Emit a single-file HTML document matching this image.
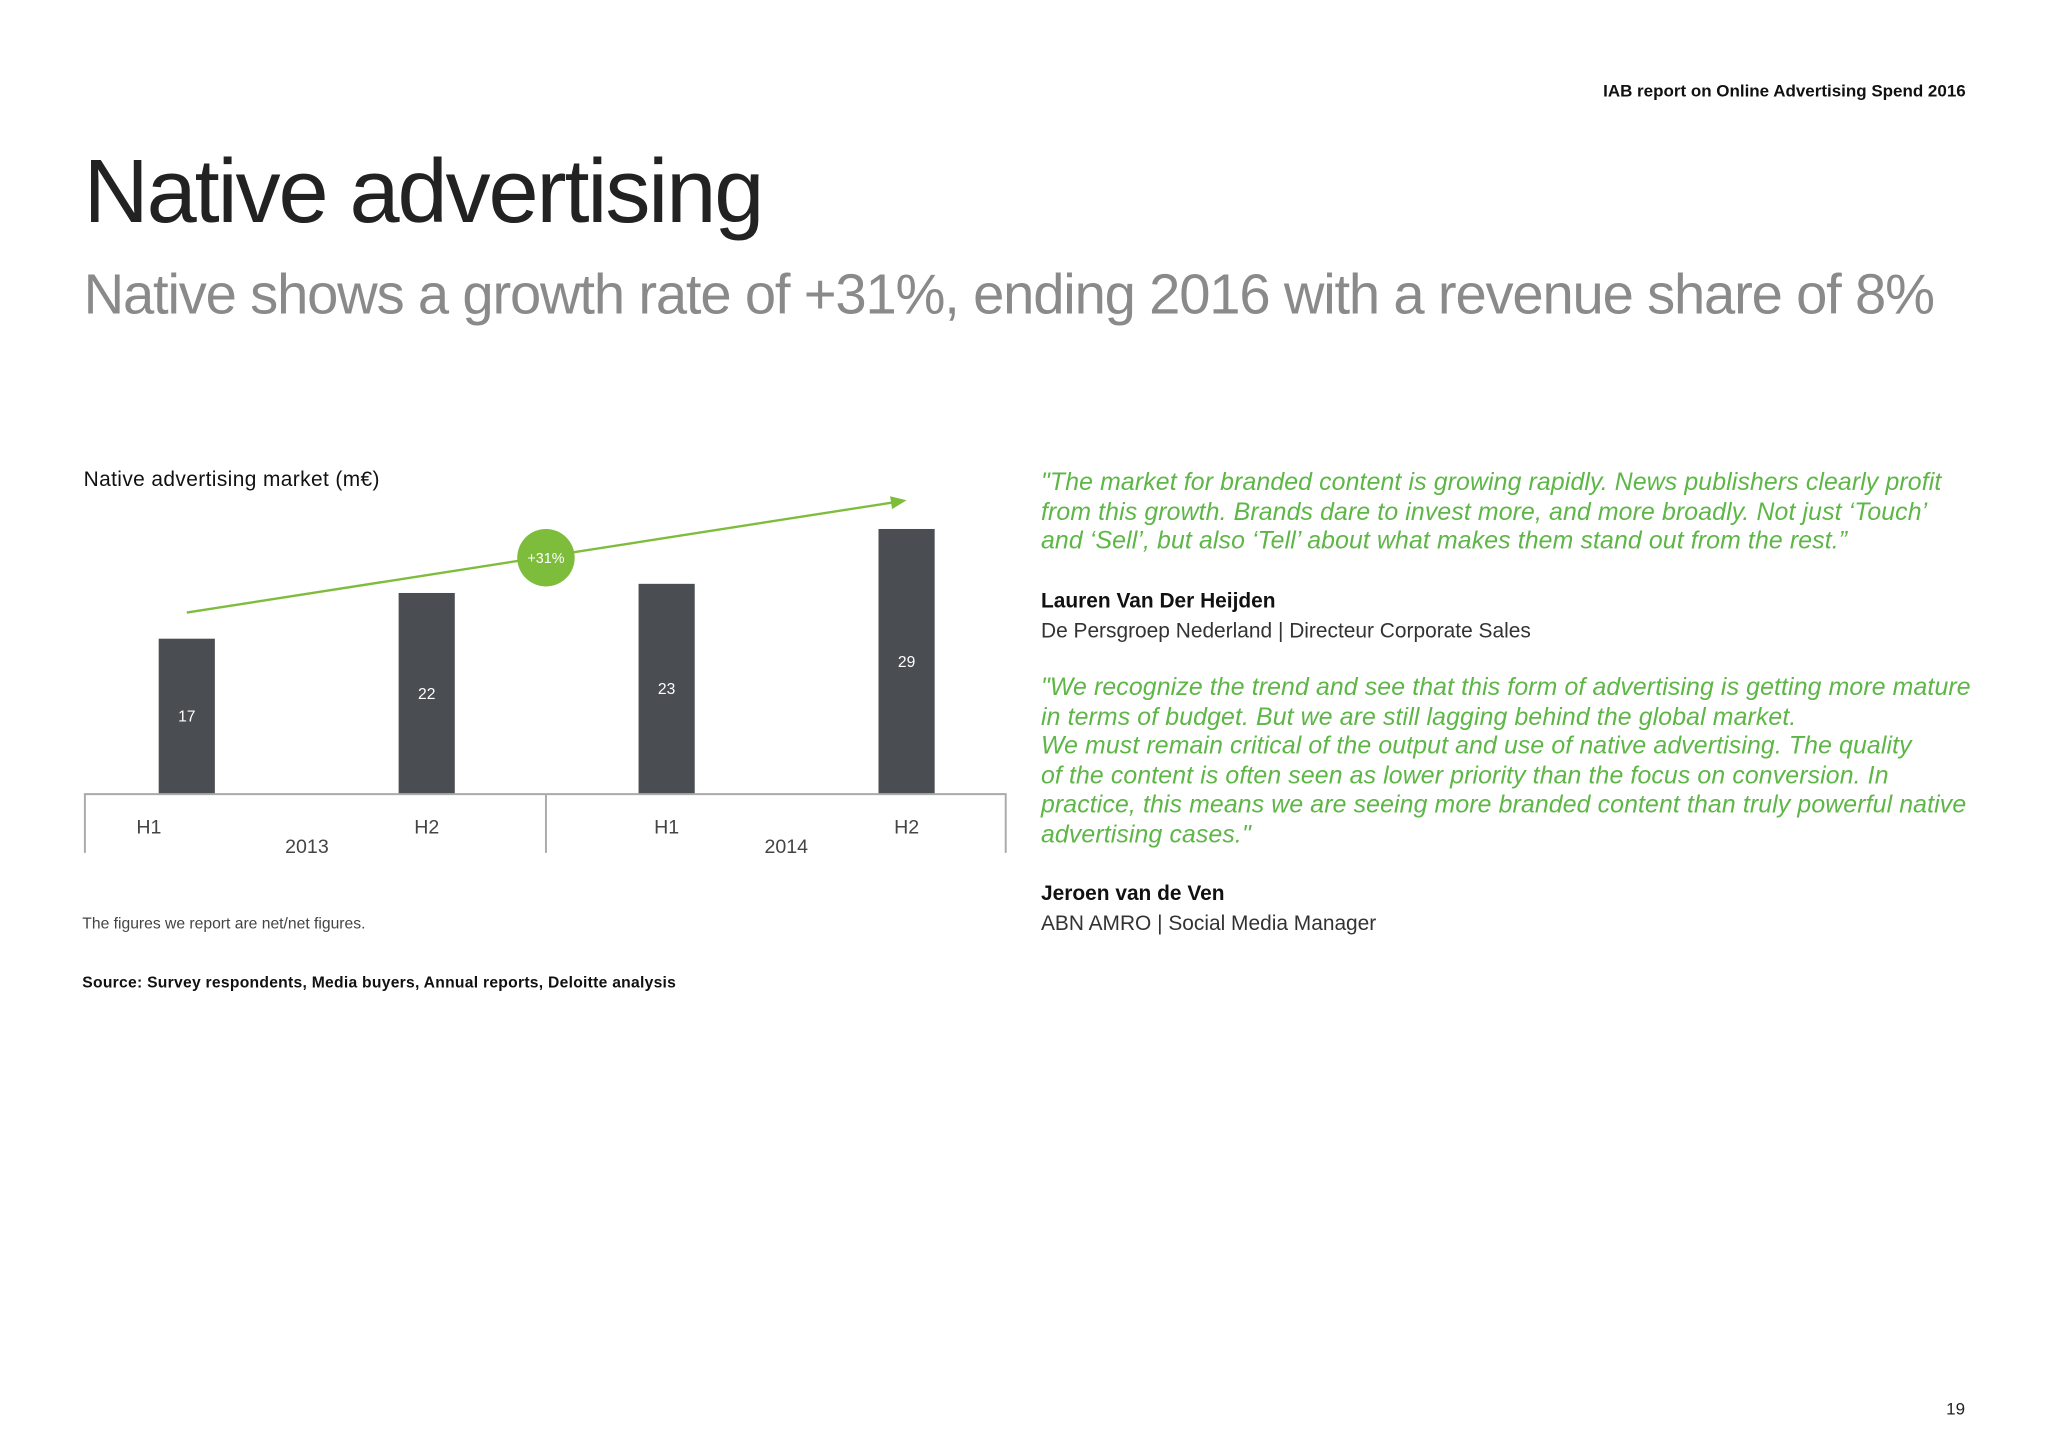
<!DOCTYPE html>
<html><head><meta charset="utf-8"><style>
html,body{margin:0;padding:0;background:#fff;}
#wrap{width:1568px;height:1109px;transform:scale(1.306122);transform-origin:0 0;position:relative;font-family:"Liberation Sans",sans-serif;}
.a{position:absolute;white-space:nowrap;}
.q{position:absolute;left:797px;color:#5db646;font-style:italic;font-size:19px;line-height:22.5px;white-space:nowrap;letter-spacing:0.1px;}
</style></head><body>
<div id="wrap">
<div class="a" style="right:63px;top:62px;font-size:13px;font-weight:bold;color:#111;">IAB report on Online Advertising Spend 2016</div>
<div class="a" style="left:64px;top:107px;font-size:69px;color:#222;letter-spacing:-1.6px;">Native advertising</div>
<div class="a" style="left:64px;top:202px;font-size:43px;color:#8a8a8a;letter-spacing:-0.9px;">Native shows a growth rate of +31%, ending 2016 with a revenue share of 8%</div>
<div class="a" style="left:64px;top:359px;font-size:16px;color:#111;letter-spacing:0.3px;">Native advertising market (m€)</div>
<svg id="chart" class="a" style="left:0;top:0" width="1568" height="1109"></svg>
<div class="a" style="left:63px;top:700px;font-size:12px;color:#444;">The figures we report are net/net figures.</div>
<div class="a" style="left:63px;top:745px;font-size:12px;font-weight:bold;color:#111;letter-spacing:0.2px;">Source: Survey respondents, Media buyers, Annual reports, Deloitte analysis</div>
<div class="q" style="top:359px;">"The market for branded content is growing rapidly. News publishers clearly profit<br>from this growth. Brands dare to invest more, and more broadly. Not just ‘Touch’<br>and ‘Sell’, but also ‘Tell’ about what makes them stand out from the rest.”</div>
<div class="a" style="left:797px;top:452px;font-size:16px;font-weight:bold;color:#111;">Lauren Van Der Heijden</div>
<div class="a" style="left:797px;top:475px;font-size:16px;color:#333;">De Persgroep Nederland | Directeur Corporate Sales</div>
<div class="q" style="top:516px;">"We recognize the trend and see that this form of advertising is getting more mature<br>in terms of budget. But we are still lagging behind the global market.<br>We must remain critical of the output and use of native advertising. The quality<br>of the content is often seen as lower priority than the focus on conversion. In<br>practice, this means we are seeing more branded content than truly powerful native<br>advertising cases."</div>
<div class="a" style="left:797px;top:676px;font-size:16px;font-weight:bold;color:#111;">Jeroen van de Ven</div>
<div class="a" style="left:797px;top:699px;font-size:16px;color:#333;">ABN AMRO | Social Media Manager</div>
<div class="a" style="left:1490px;top:1071px;font-size:13px;color:#222;">19</div>
</div>
<script>
const categories=["H1","H2","H1","H2"];
const values=[17,22,23,29];
const years=["2013","2014"];
const growthLabel="+31%";
const NS="http://www.w3.org/2000/svg";
const svg=document.getElementById('chart');
const baseY=608, pxPerUnit=7.0;
const xPos=i=>143+i*183.7;
const yPos=v=>baseY-v*pxPerUnit;
function mk(t,a,txt){const e=document.createElementNS(NS,t);for(const k in a)e.setAttribute(k,a[k]);if(txt!==undefined)e.textContent=txt;svg.appendChild(e);return e;}
values.forEach((v,i)=>{
 const r=mk('rect',{x:xPos(i)-21.5,y:yPos(v),width:43,height:v*pxPerUnit,fill:'#4a4d51'});
 
 
 const t=mk('text',{x:xPos(i),y:(yPos(v)+baseY)/2+4,'text-anchor':'middle','font-size':12,fill:'#fff','font-family':'Liberation Sans'},String(v));
 
 
 const lx=i===0?114:xPos(i);
 const c=mk('text',{x:lx,y:638,'text-anchor':'middle','font-size':15,fill:'#444','font-family':'Liberation Sans'},categories[i]);
 
 
});
const ax=mk('path',{d:'M65 653 V608 H770 V653 M418 608 V653',stroke:'#aaa','stroke-width':1.5,fill:'none'});


years.forEach((y,j)=>{
 const t=mk('text',{x:j===0?235:602,y:653,'text-anchor':'middle','font-size':15,fill:'#444','font-family':'Liberation Sans'},y);
 
 
});
const x0=xPos(0),y0=yPos(values[0])-20,x1=xPos(3),y1=yPos(values[3])-22;
const ln=mk('line',{x1:x0,y1:y0,x2:x1-8,y2:y1+1.3,stroke:'#7dbd3b','stroke-width':1.8});


const ang=Math.atan2(y1-y0,x1-x0);
const hd=mk('polygon',{points:`${x1},${y1} ${x1-12*Math.cos(ang)+5*Math.sin(ang)},${y1-12*Math.sin(ang)-5*Math.cos(ang)} ${x1-12*Math.cos(ang)-5*Math.sin(ang)},${y1-12*Math.sin(ang)+5*Math.cos(ang)}`,fill:'#7dbd3b'});


const cc=mk('circle',{cx:418,cy:427,r:22,fill:'#7dbd3b'});


const gt=mk('text',{x:418,y:431,'text-anchor':'middle','font-size':11,fill:'#fff','font-family':'Liberation Sans'},growthLabel);


</script>
</body></html>
